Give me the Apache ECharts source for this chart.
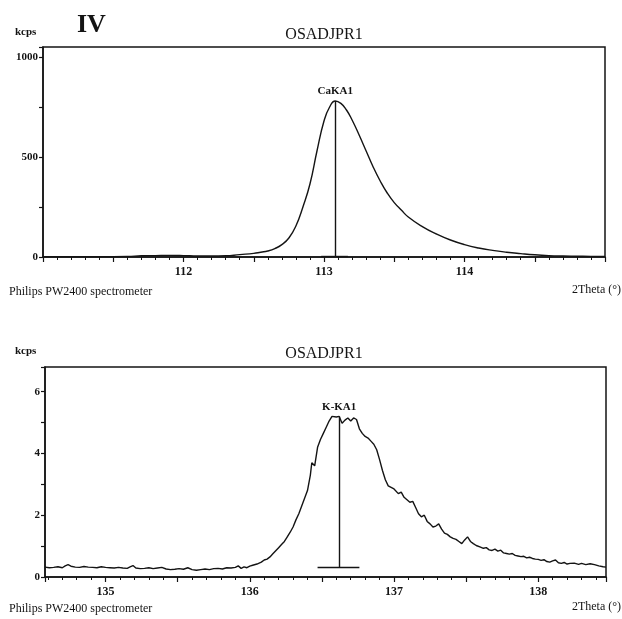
<!DOCTYPE html>
<html>
<head>
<meta charset="utf-8">
<title>OSADJPR1 spectra</title>
<script src="https://cdn.jsdelivr.net/npm/echarts@6/dist/echarts.min.js"></script>
<style>
  html, body { margin: 0; padding: 0; background: #fff; }
  #chart { width: 622px; height: 619px; }
</style>
</head>
<body>
<div id="chart"></div>
<script>
// CaKA1 scan (top panel): 2Theta in degrees, intensity in kcps
const caTheta = [111.0, 111.2, 111.4, 111.6, 111.7, 111.8, 111.9, 112.0, 112.1, 112.2, 112.3, 112.4,
  112.5, 112.55, 112.6, 112.65, 112.7, 112.75, 112.8, 112.85, 112.9, 112.95, 113.0, 113.04, 113.08,
  113.12, 113.16, 113.2, 113.25, 113.3, 113.35, 113.4, 113.45, 113.5, 113.55, 113.6, 113.7, 113.8,
  113.9, 114.0, 114.1, 114.2, 114.3, 114.4, 114.5, 114.6, 114.7, 114.8, 114.9, 115.0]
const caKcps = [2, 2, 2, 3, 6, 7, 8, 7, 5, 5, 6, 12,
  18, 24, 30, 42, 62, 95, 155, 250, 365, 530, 680, 750, 780,
  768, 735, 685, 610, 530, 450, 380, 320, 272, 235, 200, 152, 115,
  85, 62, 45, 33, 24, 17, 11, 7, 5, 4, 3, 3]

// K-KA1 scan (bottom panel), noisy counting data
const kTheta = [
  134.58, 134.61, 134.64, 134.67, 134.70, 134.72, 134.74, 134.76, 134.79, 134.82, 134.85, 134.88,
  134.91, 134.94, 134.97, 135.00, 135.03, 135.06, 135.09, 135.12, 135.15, 135.17, 135.19, 135.21,
  135.24, 135.27, 135.30, 135.33, 135.36, 135.39, 135.42, 135.45, 135.48, 135.51, 135.54, 135.57,
  135.60, 135.63, 135.66, 135.69, 135.72, 135.75, 135.78, 135.81, 135.84, 135.87, 135.90, 135.92,
  135.94, 135.96, 135.98, 136.00,
  136.02, 136.05, 136.08, 136.10, 136.12, 136.14, 136.16, 136.18, 136.20, 136.22, 136.24, 136.26,
  136.28, 136.30, 136.32, 136.34, 136.36, 136.38, 136.40, 136.42, 136.43, 136.45, 136.47, 136.49,
  136.51, 136.53, 136.55, 136.57, 136.60, 136.62, 136.64, 136.66, 136.68, 136.70, 136.72, 136.74,
  136.76, 136.78, 136.80, 136.82, 136.84, 136.86, 136.88, 136.90, 136.92, 136.94, 136.96, 136.98,
  137.00, 137.03, 137.05, 137.07, 137.09, 137.11, 137.13, 137.15, 137.17, 137.19, 137.21, 137.23,
  137.25, 137.27, 137.29, 137.31, 137.33, 137.35, 137.37, 137.39, 137.41, 137.43, 137.45, 137.47,
  137.49, 137.51, 137.53, 137.55, 137.57, 137.60, 137.62, 137.64, 137.66, 137.68, 137.70, 137.72,
  137.74, 137.76, 137.78, 137.80, 137.82, 137.84, 137.86, 137.88, 137.90, 137.92, 137.94, 137.96,
  137.98, 138.00, 138.02, 138.04, 138.06, 138.08, 138.10, 138.12, 138.14, 138.16, 138.18, 138.20,
  138.22, 138.25, 138.28, 138.30, 138.33, 138.36, 138.39, 138.42, 138.45, 138.47]
const kKcps = [
  0.32, 0.30, 0.31, 0.33, 0.30, 0.36, 0.40, 0.35, 0.32, 0.31, 0.34, 0.32,
  0.31, 0.30, 0.33, 0.31, 0.30, 0.29, 0.31, 0.29, 0.28, 0.33, 0.37, 0.29,
  0.27, 0.28, 0.30, 0.27, 0.29, 0.31, 0.26, 0.24, 0.25, 0.27, 0.25, 0.30,
  0.24, 0.22, 0.24, 0.26, 0.24, 0.27, 0.28, 0.26, 0.30, 0.29, 0.31, 0.36,
  0.28, 0.33, 0.30, 0.35,
  0.38, 0.42, 0.48, 0.55, 0.58, 0.65, 0.75, 0.85, 0.95, 1.05, 1.15, 1.30,
  1.45, 1.62, 1.85, 2.05, 2.30, 2.55, 2.80, 3.30, 3.70, 3.60, 4.20, 4.45,
  4.65, 4.85, 5.05, 5.20, 5.18, 5.20, 4.98, 5.08, 5.15, 5.05, 5.15, 5.10,
  4.80, 4.65, 4.55, 4.50, 4.40, 4.30, 4.12, 3.80, 3.45, 3.15, 2.95, 2.90,
  2.85, 2.70, 2.75, 2.58, 2.50, 2.42, 2.45, 2.25, 2.05, 1.95, 2.00, 1.80,
  1.72, 1.62, 1.65, 1.72, 1.55, 1.42, 1.38, 1.30, 1.25, 1.22, 1.15, 1.08,
  1.20, 1.30, 1.15, 1.08, 1.02, 0.97, 0.93, 0.95, 0.88, 0.86, 0.90, 0.84,
  0.87, 0.78, 0.76, 0.74, 0.76, 0.70, 0.68, 0.66, 0.67, 0.62, 0.64, 0.60,
  0.58, 0.57, 0.54, 0.56, 0.50, 0.48, 0.52, 0.55, 0.46, 0.44, 0.47, 0.42,
  0.44, 0.45, 0.41, 0.44, 0.40, 0.43, 0.40, 0.36, 0.33, 0.32]

// peak markers: position, top of line, background level and base bar span
const caPeak = { name: 'CaKA1', theta: 113.08, top: 780, base: 3, from: 112.98, to: 113.17 }
const kPeak = { name: 'K-KA1', theta: 136.62, top: 5.2, base: 0.32, from: 136.47, to: 136.76 }

// tick labels shown on each axis
const caXLabels = [112, 113, 114]
const caYLabels = [0, 500, 1000]
const kXLabels = [135, 136, 137, 138]
const kYLabels = [0, 2, 4, 6]

const SERIF = '"Liberation Serif", "DejaVu Serif", serif'
const INK = '#141414'

function pairs(xs, ys) {
  return xs.map((x, i) => [x, ys[i]])
}

function labelFilter(list) {
  return v => list.some(t => Math.abs(t - v) < 1e-6) ? String(Math.round(v)) : ''
}

function xAxisFor(gridIndex, min, max, labels, extra) {
  return Object.assign({
    type: 'value',
    gridIndex: gridIndex,
    min: min,
    max: max,
    axisLine: { lineStyle: { color: INK, width: 1.5 } },
    axisTick: { show: true, length: 5, lineStyle: { color: INK, width: 1.2 } },
    minorTick: { show: true, splitNumber: 5, length: 3, lineStyle: { color: INK, width: 1 } },
    splitLine: { show: false },
    axisLabel: {
      color: INK, fontFamily: SERIF, fontSize: 12, fontWeight: 'bold', margin: 9,
      formatter: labelFilter(labels)
    }
  }, extra)
}

function yAxisFor(gridIndex, max, interval, labels) {
  return {
    type: 'value',
    gridIndex: gridIndex,
    min: 0,
    max: max,
    interval: interval,
    axisLine: { show: true, lineStyle: { color: INK, width: 1.5 } },
    axisTick: { show: true, length: 4, lineStyle: { color: INK, width: 1.2 } },
    splitLine: { show: false },
    axisLabel: {
      color: INK, fontFamily: SERIF, fontSize: 11, fontWeight: 'bold', margin: 5,
      formatter: labelFilter(labels)
    }
  }
}

function peakMarks(p) {
  return {
    silent: true,
    symbol: ['none', 'none'],
    lineStyle: { color: INK, width: 1.4, type: 'solid' },
    label: { show: false },
    data: [
      [
        { coord: [p.theta, p.base] },
        {
          coord: [p.theta, p.top],
          label: {
            show: true, position: 'end', distance: 4, formatter: p.name,
            color: INK, fontFamily: SERIF, fontSize: 11, fontWeight: 'bold'
          }
        }
      ],
      [{ coord: [p.from, p.base] }, { coord: [p.to, p.base] }]
    ]
  }
}

function spectrumSeries(index, data, smooth, peak) {
  return {
    type: 'line',
    xAxisIndex: index,
    yAxisIndex: index,
    data: data,
    smooth: smooth,
    showSymbol: false,
    lineStyle: { color: INK, width: 1.4 },
    markLine: peakMarks(peak),
    animation: false
  }
}

function text(str, x, y, size, opts) {
  return {
    type: 'text', x: x, y: y,
    style: Object.assign({ text: str, fill: INK, font: size + 'px ' + SERIF }, opts || {})
  }
}

const chart = echarts.init(document.getElementById('chart'), null, { renderer: 'canvas' })

chart.setOption({
  backgroundColor: '#fff',
  animation: false,
  grid: [
    { left: 43, top: 47, right: 17, height: 210, show: true, borderColor: INK, borderWidth: 1.5 },
    { left: 45, top: 367, right: 16, height: 210, show: true, borderColor: INK, borderWidth: 1.5 }
  ],
  xAxis: [
    xAxisFor(0, 111, 115, caXLabels, { interval: 0.5 }),
    xAxisFor(1, 134.58, 138.47, kXLabels, { splitNumber: 8 })
  ],
  yAxis: [
    yAxisFor(0, 1050, 250, caYLabels),
    yAxisFor(1, 6.8, 1, kYLabels)
  ],
  series: [
    spectrumSeries(0, pairs(caTheta, caKcps), 0.5, caPeak),
    spectrumSeries(1, pairs(kTheta, kKcps), false, kPeak)
  ],
  graphic: [
    text('IV', 77, 12, 26, { font: 'bold 26px ' + SERIF }),
    text('kcps', 15, 27, 11, { font: 'bold 11px ' + SERIF }),
    text('OSADJPR1', 324, 27, 16, { textAlign: 'center' }),
    text('Philips PW2400 spectrometer', 9, 286, 12),
    text('2Theta (°)', 621, 284, 12, { textAlign: 'right' }),
    text('kcps', 15, 346, 11, { font: 'bold 11px ' + SERIF }),
    text('OSADJPR1', 324, 346, 16, { textAlign: 'center' }),
    text('Philips PW2400 spectrometer', 9, 603, 12),
    text('2Theta (°)', 621, 601, 12, { textAlign: 'right' })
  ]
})
</script>
</body>
</html>
